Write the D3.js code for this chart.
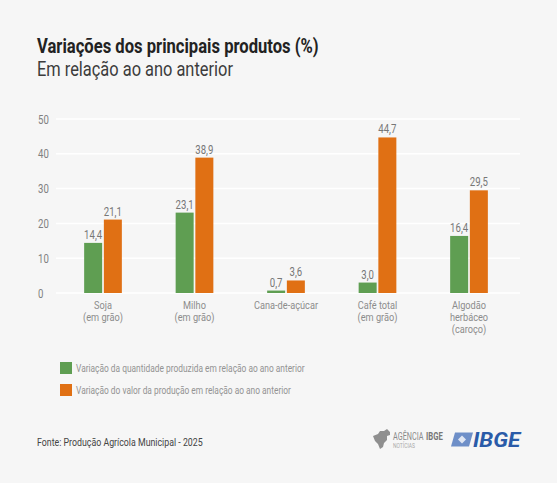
<!DOCTYPE html>
<html>
<head>
<meta charset="utf-8">
<script src="https://cdn.jsdelivr.net/npm/d3@7"></script>
<style>
  html, body { margin: 0; padding: 0; background: #f6f6f6; }
  svg { display: block; }
  text { font-family: "Roboto", sans-serif; }
</style>
</head>
<body>
<svg id="chart" width="557" height="483"></svg>
<script>
var categories = [["Soja", "(em grão)"], ["Milho", "(em grão)"], ["Cana-de-açúcar"], ["Café total", "(em grão)"], ["Algodão", "herbáceo", "(caroço)"]];
var quantidade = [14.4, 23.1, 0.7, 3.0, 16.4];
var valor = [21.1, 38.9, 3.6, 44.7, 29.5];
var yTicks = [0, 10, 20, 30, 40, 50];
var seriesNames = ["Variação da quantidade produzida em relação ao ano anterior", "Variação do valor da produção em relação ao ano anterior"];
var seriesColors = ["#5f9e52", "#e07014"];

var svg = d3.select("#chart");
svg.append("rect").attr("width", 557).attr("height", 483).attr("fill", "#f6f6f6");

// no condensed font here, so squeeze the text by measuring it
function squeeze(sel, k) {
  sel.each(function() {
    var w = this.getComputedTextLength();
    d3.select(this).attr("textLength", w * k).attr("lengthAdjust", "spacingAndGlyphs");
  });
  return sel;
}

squeeze(svg.append("text").attr("x", 37).attr("y", 53).attr("font-size", 20).attr("font-weight", "bold").attr("fill", "#222").text("Variações dos principais produtos (%)"), .83);
squeeze(svg.append("text").attr("x", 37).attr("y", 76).attr("font-size", 20).attr("fill", "#3c3c3c").text("Em relação ao ano anterior"), .82);

var y = d3.scaleLinear().domain([0, 50]).range([293, 119]);
var x = d3.scalePoint().domain(d3.range(categories.length)).range([103, 469]);
var barW = 18, gap = 1.7;

// grid lines
svg.selectAll(".grid").data(yTicks).enter().append("line")
  .attr("x1", 56).attr("x2", 520)
  .attr("y1", function(d){ return y(d) }).attr("y2", function(d){ return y(d) })
  .attr("stroke", "#fff").attr("stroke-width", 1.5);

squeeze(svg.selectAll(".ytick").data(yTicks).enter().append("text")
  .attr("x", 38).attr("y", function(d){ return y(d) + 4.5 })
  .attr("font-size", 12).attr("fill", "#808080").text(function(d){ return d }), .8);

function fmt(v) { return v.toFixed(1).replace(".", ","); }

function bars(values, color, dx) {
  svg.selectAll(null).data(values).enter().append("rect")
    .attr("x", function(d, i){ return x(i) + dx })
    .attr("y", function(d){ return y(d) })
    .attr("width", barW)
    .attr("height", function(d){ return y(0) - y(d) })
    .attr("fill", color);
  squeeze(svg.selectAll(null).data(values).enter().append("text")
    .attr("x", function(d, i){ return x(i) + dx + barW / 2 })
    .attr("y", function(d){ return y(d) - 4 })
    .attr("text-anchor", "middle")
    .attr("font-size", 12).attr("fill", "#777").text(fmt), .8);
}
bars(quantidade, seriesColors[0], -barW - gap / 2);
bars(valor, seriesColors[1], gap / 2);

// category labels
categories.forEach(function(lines, i) {
  lines.forEach(function(l, j) {
    squeeze(svg.append("text").attr("x", x(i)).attr("y", 309 + j * 12)
      .attr("text-anchor", "middle").attr("font-size", 11.5).attr("fill", "#8c8c8c").text(l), .8);
  });
});

// legend
seriesNames.forEach(function(name, i) {
  var ly = 362 + i * 22;
  svg.append("rect").attr("x", 60).attr("y", ly).attr("width", 12).attr("height", 12).attr("fill", seriesColors[i]);
  squeeze(svg.append("text").attr("x", 76).attr("y", ly + 10).attr("font-size", 11).attr("fill", "#939393").text(name), .76);
});

squeeze(svg.append("text").attr("x", 37).attr("y", 446).attr("font-size", 11).attr("fill", "#444").text("Fonte: Produção Agrícola Municipal - 2025"), .8);

// logos
svg.append("path").attr("d", "M373 436l5-2 2-3 4 0 3-2 3 3 0 3-3 1 0 4-3 3-1 4-3 2-2-5-3-3-2-5-5-2z").attr("fill", "#8f8f8f");
squeeze(svg.append("text").attr("x", 393).attr("y", 440).attr("font-size", 11).attr("fill", "#8a8a8a").text("AGÊNCIA"), .66);
squeeze(svg.append("text").attr("x", 426).attr("y", 440).attr("font-size", 11).attr("font-weight", "bold").attr("fill", "#777").text("IBGE"), .7);
squeeze(svg.append("text").attr("x", 393).attr("y", 448).attr("font-size", 7.5).attr("fill", "#aaa").text("NOTÍCIAS"), .66);
svg.append("path").attr("d", "M455 432.500h18l-4 14h-18z").attr("fill", "#6e8fc8");
svg.append("path").attr("d", "M462 435.500l4 4-4 4-4-4z").attr("fill", "#dfe6f3");
squeeze(svg.append("text").attr("x", 473).attr("y", 446.500).attr("font-size", 19.500).attr("font-weight", "bold").attr("font-style", "italic").attr("fill", "#2a5ba8").attr("font-family", "Liberation Sans").text("IBGE"), 1.15);
</script>
</body>
</html>
